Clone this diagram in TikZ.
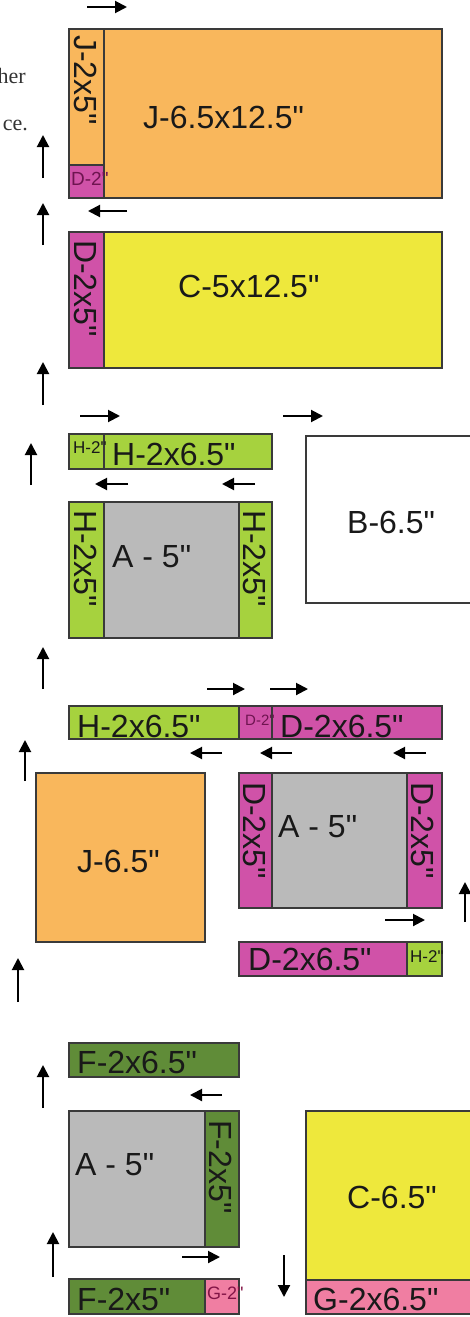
\documentclass[tikz,border=0pt]{standalone}
\usepackage{fontspec}
\setmainfont{Liberation Sans}[Ligatures=TeXOff]
\newfontfamily\fragfont{Liberation Serif}
\usetikzlibrary{arrows.meta}
\definecolor{corange}{RGB}{249,183,92}
\definecolor{cyellow}{RGB}{238,232,60}
\definecolor{cmag}{RGB}{208,82,168}
\definecolor{clgreen}{RGB}{166,210,62}
\definecolor{cgray}{RGB}{186,186,186}
\definecolor{cdgreen}{RGB}{96,140,56}
\definecolor{cpink}{RGB}{240,126,162}
\definecolor{cline}{RGB}{58,58,58}
\definecolor{ctext}{RGB}{25,25,25}
\definecolor{cmagtext}{RGB}{110,20,80}
\definecolor{cpinktext}{RGB}{130,20,70}
\newcommand\blk[6]{\node[piece, fill=#2, anchor=north west, minimum width={(#5)-(#3)}, minimum height={(#6)-(#4)}] (#1) at (#3,#4) {};}
\begin{document}
\begin{tikzpicture}[x=1pt,y=-1pt,
  piece/.style={draw=cline, line width=1.3pt, inner sep=0pt, outer sep=0pt},
  big/.style={font=\fontsize{32}{32}\selectfont, inner sep=0pt, text=ctext},
  smalllbl/.style={font=\fontsize{17}{17}\selectfont, inner sep=0pt},
  frag/.style={font=\fragfont\fontsize{22}{22}\selectfont, inner sep=0pt, text=black!80},
  arr/.style={line width=2pt, -{Triangle[length=12pt,width=12pt]}},
]
\useasboundingbox (0,0) rectangle (470,1317);
\fill[white] (0,0) rectangle (470,1317);

% text fragments
\node[frag, anchor=base east] (f1) at (26,83) {her};
\node[frag, anchor=base east] (f2) at (28,130) {ce.};

% ---------- Row 1
\blk{js}{corange}{69}{29}{104}{165}
\blk{jd}{cmag}{69}{165}{104}{198}
\blk{jb}{corange}{104}{29}{442}{198}
\node[big, rotate=-90, anchor=base west] (jsl) at (74,35) {J-2x5"};
\node[smalllbl, font=\fontsize{19}{19}\selectfont, anchor=base west, text=cmagtext] (jdl) at (71,185) {D-2"};
\node[big, anchor=base west] (jbl) at (143,128) {J-6.5x12.5"};
\draw[arr] (87,7) -- (127,7);
\draw[arr] (43,178) -- (43,135);
\draw[arr] (43,245) -- (43,203);
\draw[arr] (127,211) -- (88,211);

% ---------- Row 2
\blk{ds}{cmag}{69}{232}{104}{368}
\blk{cb}{cyellow}{104}{232}{442}{368}
\node[big, rotate=-90, anchor=base west] (dsl) at (74,240) {D-2x5"};
\node[big, anchor=base west] (cbl) at (178,297) {C-5x12.5"};
\draw[arr] (43,405) -- (43,362);
\draw[arr] (80,416) -- (120,416);
\draw[arr] (283,416) -- (323,416);

% ---------- Row 3
\blk{hsm}{clgreen}{69}{434}{104}{469}
\blk{hst}{clgreen}{104}{434}{272}{469}
\node[smalllbl, anchor=base west, text=ctext] (hsml) at (73,453) {H-2"};
\node[big, anchor=base west] (hstl) at (112,465) {H-2x6.5"};
\blk{bb}{white}{306}{436}{476}{603}
\node[big, anchor=base west] (bbl) at (347,533) {B-6.5"};
\draw[arr] (31,485) -- (31,443);
\draw[arr] (128,484) -- (95,484);
\draw[arr] (255,484) -- (222,484);
\blk{ha}{cgray}{104}{502}{239}{638}
\blk{hl}{clgreen}{69}{502}{104}{638}
\blk{hr}{clgreen}{239}{502}{272}{638}
\node[big, rotate=-90, anchor=base west] (hll) at (74,510) {H-2x5"};
\node[big, rotate=-90, anchor=base west] (hrl) at (243,510) {H-2x5"};
\node[big, anchor=base west] (hal) at (112,567) {A - 5"};
\draw[arr] (43,689) -- (43,647);

% ---------- Row 4
\draw[arr] (207,689) -- (245,689);
\draw[arr] (270,689) -- (308,689);
\blk{th}{clgreen}{69}{706}{239}{739}
\blk{tdm}{cmag}{239}{706}{272}{739}
\blk{td}{cmag}{272}{706}{442}{739}
\node[big, anchor=base west] (thl) at (77,737) {H-2x6.5"};
\node[font=\fontsize{15}{15}\selectfont, inner sep=0pt, anchor=base west, text=cmagtext] (tdml) at (245,725) {D-2"};
\node[big, anchor=base west] (tdl) at (280,737) {D-2x6.5"};
\draw[arr] (222,753) -- (190,753);
\draw[arr] (292,753) -- (260,753);
\draw[arr] (426,753) -- (393,753);
\draw[arr] (25,781) -- (25,740);
\blk{j6}{corange}{36}{773}{205}{942}
\node[big, anchor=base west] (j6l) at (77,872) {J-6.5"};
\blk{da}{cgray}{272}{773}{407}{908}
\blk{dl}{cmag}{239}{773}{272}{908}
\blk{dr}{cmag}{407}{773}{442}{908}
\node[big, rotate=-90, anchor=base west] (dll) at (243,782) {D-2x5"};
\node[big, rotate=-90, anchor=base west] (drl) at (411,782) {D-2x5"};
\node[big, anchor=base west] (dal) at (278,837) {A - 5"};
\draw[arr] (385,920) -- (425,920);
\draw[arr] (465,922) -- (465,882);
\blk{bd}{cmag}{239}{942}{407}{976}
\blk{bh}{clgreen}{407}{942}{442}{976}
\node[big, anchor=base west] (bdl) at (248,970) {D-2x6.5"};
\node[smalllbl, anchor=base west, text=ctext] (bhl) at (410,962) {H-2"};
\draw[arr] (18,1002) -- (18,958);

% ---------- Row 5
\blk{fs}{cdgreen}{69}{1043}{239}{1077}
\node[big, anchor=base west] (fsl) at (77,1073) {F-2x6.5"};
\draw[arr] (43,1108) -- (43,1065);
\draw[arr] (222,1095) -- (190,1095);
\blk{fa}{cgray}{69}{1111}{205}{1247}
\blk{fr}{cdgreen}{205}{1111}{239}{1247}
\node[big, anchor=base west] (fal) at (75,1175) {A - 5"};
\node[big, rotate=-90, anchor=base west] (frl) at (209,1120) {F-2x5"};
\blk{c6}{cyellow}{306}{1111}{476}{1280}
\blk{gs}{cpink}{306}{1280}{476}{1314}
\node[big, anchor=base west] (c6l) at (347,1208) {C-6.5"};
\node[big, anchor=base west] (gsl) at (313,1310) {G-2x6.5"};
\draw[arr] (53,1277) -- (53,1232);
\draw[arr] (182,1257) -- (220,1257);
\draw[arr] (284,1255) -- (284,1297);
\blk{fb}{cdgreen}{69}{1279}{205}{1314}
\blk{gb}{cpink}{205}{1279}{239}{1314}
\node[big, anchor=base west] (fbl) at (77,1310) {F-2x5"};
\node[smalllbl, font=\fontsize{18}{18}\selectfont, anchor=base west, text=cpinktext] (gbl) at (207,1299) {G-2"};
\end{tikzpicture}
\end{document}
